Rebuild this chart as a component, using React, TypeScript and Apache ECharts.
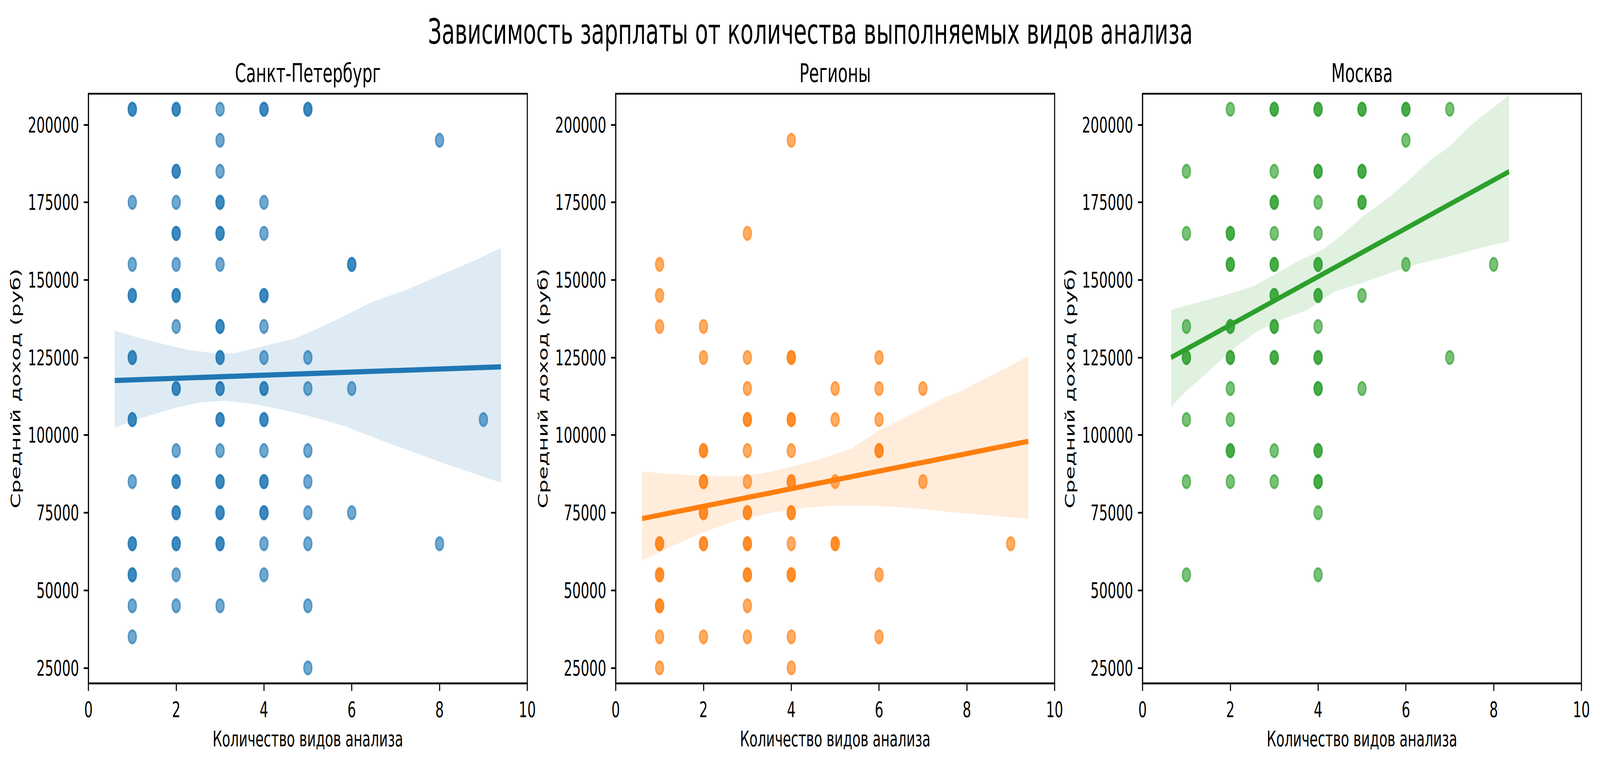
import React, { useEffect, useRef } from 'react';
import * as echarts from 'echarts';

// ---------- texts ----------
const chartTitle = 'Зависимость зарплаты от количества выполняемых видов анализа';
const panelTitles = ['Санкт-Петербург', 'Регионы', 'Москва'];
const xAxisLabel = 'Количество видов анализа';
const yAxisLabel = 'Средний доход (руб)';

// ---------- ticks ----------
const xTicks = [0, 2, 4, 6, 8, 10];
const yTicks = [25000, 50000, 75000, 100000, 125000, 150000, 175000, 200000];

// ---------- colours ----------
const panelColors = ['#1f77b4', '#ff7f0e', '#2ca02c'];
const panelColorsRgb = ['31,119,180', '255,127,14', '44,160,44'];

// ---------- scatter data: [analysis count, salary, overlapping observations] ----------
const spbPoints = [
  [1, 205000, 2], [1, 175000, 1], [1, 155000, 1], [1, 145000, 2], [1, 125000, 2], [1, 105000, 2],
  [1, 85000, 1], [1, 65000, 2], [1, 55000, 2], [1, 45000, 1], [1, 35000, 1],
  [2, 205000, 2], [2, 185000, 2], [2, 175000, 1], [2, 165000, 2], [2, 155000, 1], [2, 145000, 2],
  [2, 135000, 1], [2, 115000, 2], [2, 95000, 1], [2, 85000, 2], [2, 75000, 2], [2, 65000, 2],
  [2, 55000, 1], [2, 45000, 1],
  [3, 205000, 1], [3, 195000, 1], [3, 185000, 1], [3, 175000, 2], [3, 165000, 2], [3, 155000, 1],
  [3, 135000, 2], [3, 125000, 2], [3, 115000, 2], [3, 105000, 2], [3, 95000, 1], [3, 85000, 2],
  [3, 75000, 2], [3, 65000, 2], [3, 45000, 1],
  [4, 205000, 2], [4, 175000, 1], [4, 165000, 1], [4, 145000, 2], [4, 135000, 1], [4, 125000, 1],
  [4, 115000, 2], [4, 105000, 2], [4, 95000, 1], [4, 85000, 2], [4, 75000, 2], [4, 65000, 1],
  [4, 55000, 1],
  [5, 205000, 2], [5, 125000, 1], [5, 115000, 1], [5, 95000, 1], [5, 85000, 1], [5, 75000, 1],
  [5, 65000, 1], [5, 45000, 1], [5, 25000, 1],
  [6, 155000, 2], [6, 115000, 1], [6, 75000, 1],
  [8, 195000, 1], [8, 65000, 1],
  [9, 105000, 1],
];

const regionPoints = [
  [1, 155000, 1], [1, 145000, 1], [1, 135000, 1], [1, 65000, 2], [1, 55000, 2], [1, 45000, 2],
  [1, 35000, 1], [1, 25000, 1],
  [2, 135000, 1], [2, 125000, 1], [2, 95000, 2], [2, 85000, 2], [2, 75000, 2], [2, 65000, 2],
  [2, 35000, 1],
  [3, 165000, 1], [3, 125000, 1], [3, 115000, 1], [3, 105000, 2], [3, 95000, 1], [3, 85000, 1],
  [3, 75000, 2], [3, 65000, 2], [3, 55000, 2], [3, 45000, 1], [3, 35000, 1],
  [4, 195000, 1], [4, 125000, 2], [4, 105000, 2], [4, 95000, 1], [4, 85000, 2], [4, 75000, 2],
  [4, 65000, 1], [4, 55000, 2], [4, 35000, 1], [4, 25000, 1],
  [5, 115000, 1], [5, 105000, 1], [5, 85000, 1], [5, 65000, 2],
  [6, 125000, 1], [6, 115000, 1], [6, 105000, 1], [6, 95000, 2], [6, 55000, 1], [6, 35000, 1],
  [7, 115000, 1], [7, 85000, 1],
  [9, 65000, 1],
];

const moscowPoints = [
  [1, 185000, 1], [1, 165000, 1], [1, 135000, 1], [1, 125000, 2], [1, 105000, 1], [1, 85000, 1],
  [1, 55000, 1],
  [2, 205000, 1], [2, 165000, 2], [2, 155000, 2], [2, 135000, 2], [2, 125000, 2], [2, 115000, 1],
  [2, 105000, 1], [2, 95000, 2], [2, 85000, 1],
  [3, 205000, 2], [3, 185000, 1], [3, 175000, 2], [3, 165000, 1], [3, 155000, 2], [3, 145000, 2],
  [3, 135000, 2], [3, 125000, 2], [3, 95000, 1], [3, 85000, 1],
  [4, 205000, 2], [4, 185000, 2], [4, 175000, 1], [4, 165000, 1], [4, 155000, 2], [4, 145000, 2],
  [4, 135000, 1], [4, 125000, 2], [4, 115000, 2], [4, 95000, 2], [4, 85000, 2], [4, 75000, 1],
  [4, 55000, 1],
  [5, 205000, 2], [5, 185000, 2], [5, 175000, 2], [5, 145000, 1], [5, 115000, 1],
  [6, 205000, 2], [6, 195000, 1], [6, 155000, 1],
  [7, 205000, 1], [7, 125000, 1],
  [8, 155000, 1],
];

// ---------- regression lines (end points) ----------
const spbLine = [[0.6, 117600], [9.4, 122000]];
const regionLine = [[0.6, 73100], [9.4, 98000]];
const moscowLine = [[0.65, 125000], [8.35, 184900]];

// ---------- confidence bands ----------
const spbUpper = [
  [0.6, 133700], [1.13, 131400], [1.69, 129400], [2.31, 127400], [2.87, 126400], [3.34, 126400],
  [3.97, 128600], [4.68, 131000], [5.15, 133800], [5.86, 138600], [6.41, 142600], [7.28, 147000],
  [8.06, 151800], [8.85, 156600], [9.4, 160300],
];
const spbLower = [
  [0.6, 102400], [1.13, 105200], [2.0, 108900], [2.55, 110500], [3.1, 111100], [3.73, 110100],
  [4.44, 108100], [5.15, 105700], [5.86, 102800], [6.65, 98400], [7.43, 94400], [8.22, 90300],
  [9.4, 84700],
];
const regionUpper = [
  [0.6, 88300], [1.2, 87500], [1.98, 86900], [2.6, 86700], [3.09, 87100], [3.56, 88300],
  [4.03, 89900], [4.58, 91900], [5.37, 95600], [6.0, 101500], [6.71, 106500], [7.5, 112100],
  [7.89, 114300], [9.4, 125400],
];
const regionLower = [
  [0.6, 59700], [1.2, 63700], [1.98, 68600], [2.77, 72600], [3.56, 75000], [4.35, 76600],
  [4.98, 77300], [5.92, 77200], [6.71, 76600], [7.5, 75400], [8.28, 74400], [9.4, 73000],
];
const moscowUpper = [
  [0.65, 140400], [1.22, 142600], [2.0, 145600], [2.56, 148200], [3.11, 152600], [3.58, 156300],
  [4.13, 159900], [4.6, 165100], [5.0, 170300], [5.55, 175900], [6.02, 181500], [6.57, 188700],
  [6.97, 192700], [7.52, 200300], [7.99, 205500], [8.35, 209500],
];
const moscowLower = [
  [0.65, 109100], [0.98, 114000], [1.54, 121000], [2.0, 127000], [2.56, 133000], [3.19, 137400],
  [3.74, 140200], [4.37, 146200], [5.0, 149000], [5.63, 152200], [6.34, 155400], [6.97, 157500],
  [7.91, 161100], [8.35, 162300],
];

const panels = [
  { points: spbPoints, line: spbLine, upper: spbUpper, lower: spbLower },
  { points: regionPoints, line: regionLine, upper: regionUpper, lower: regionLower },
  { points: moscowPoints, line: moscowLine, upper: moscowUpper, lower: moscowLower },
];

// ---------- layout (in reference pixels) ----------
const W = 6642;
const H = 1959;
const FONT = 'DejaVu Sans';
const gridLefts = [367, 2556, 4743];
const gridTop = 240;
const gridW = 1822;
const gridH = 1510;
const tickFont = 55.6;
const spine = 4.4;

function buildOption() {
  const grid: any[] = [];
  const xAxis: any[] = [];
  const yAxis: any[] = [];
  const series: any[] = [];
  const graphic: any[] = [];

  graphic.push({
    type: 'text',
    x: 3364,
    y: 81,
    style: {
      text: chartTitle,
      font: `88.9px "${FONT}"`,
      fill: '#000',
      align: 'center',
      verticalAlign: 'middle',
    },
  });

  panels.forEach((p, i) => {
    const left = gridLefts[i];
    const rgb = panelColorsRgb[i];
    grid.push({
      left,
      top: gridTop,
      width: gridW,
      height: gridH,
      show: true,
      borderColor: '#000',
      borderWidth: spine,
      backgroundColor: 'transparent',
      containLabel: false,
    });
    xAxis.push({
      type: 'value',
      gridIndex: i,
      min: 0,
      max: 10,
      interval: 2,
      axisLine: { show: true, lineStyle: { color: '#000', width: spine } },
      axisTick: { show: true, inside: false, length: 19.4, lineStyle: { color: '#000', width: spine } },
      axisLabel: {
        show: true,
        margin: 39,
        fontSize: tickFont,
        fontFamily: FONT,
        color: '#000',
        formatter: (v: number) => String(v),
        customValues: xTicks,
      },
      splitLine: { show: false },
    });
    yAxis.push({
      type: 'value',
      gridIndex: i,
      min: 20000,
      max: 210000,
      axisLine: { show: true, lineStyle: { color: '#000', width: spine } },
      axisTick: {
        show: true,
        inside: false,
        length: 19.4,
        lineStyle: { color: '#000', width: spine },
        customValues: yTicks,
      },
      axisLabel: {
        show: true,
        margin: 39,
        fontSize: tickFont,
        fontFamily: FONT,
        color: '#000',
        formatter: (v: number) => String(v),
        customValues: yTicks,
      },
      splitLine: { show: false },
    });

    const scatterData: number[][] = [];
    p.points.forEach(([x, y, n]) => {
      for (let k = 0; k < n; k++) scatterData.push([x, y]);
    });

    series.push({
      type: 'scatter',
      xAxisIndex: i,
      yAxisIndex: i,
      data: scatterData,
      symbol: 'circle',
      symbolSize: 33.3,
      itemStyle: {
        color: `rgba(${rgb},0.8)`,
        borderColor: `rgba(${rgb},0.8)`,
        borderWidth: 5.5,
      },
      emphasis: { disabled: true },
      silent: true,
      z: 2,
    });

    const upper = p.upper;
    const lower = p.lower;
    series.push({
      type: 'custom',
      xAxisIndex: i,
      yAxisIndex: i,
      data: [upper[0]],
      silent: true,
      z: 3,
      renderItem: (_params: any, api: any) => {
        const pts = upper
          .map((q) => api.coord(q))
          .concat(lower.slice().reverse().map((q) => api.coord(q)));
        return {
          type: 'polygon',
          shape: { points: pts },
          style: { fill: `rgba(${rgb},0.15)`, stroke: 'none' },
        };
      },
    });

    series.push({
      type: 'line',
      xAxisIndex: i,
      yAxisIndex: i,
      data: p.line,
      showSymbol: false,
      symbol: 'none',
      lineStyle: { color: panelColors[i], width: 13.3, cap: 'butt' },
      emphasis: { disabled: true },
      silent: true,
      z: 4,
    });

    const cx = left + gridW / 2;
    graphic.push({
      type: 'text',
      x: cx,
      y: 187,
      style: {
        text: panelTitles[i],
        font: `66.7px "${FONT}"`,
        fill: '#000',
        align: 'center',
        verticalAlign: 'middle',
      },
    });
    graphic.push({
      type: 'text',
      x: cx,
      y: 1892,
      style: {
        text: xAxisLabel,
        font: `${tickFont}px "${FONT}"`,
        fill: '#000',
        align: 'center',
        verticalAlign: 'middle',
      },
    });
    graphic.push({
      type: 'text',
      x: left - 301.5,
      y: gridTop + gridH / 2,
      rotation: Math.PI / 2,
      style: {
        text: yAxisLabel,
        font: `${tickFont}px "${FONT}"`,
        fill: '#000',
        align: 'center',
        verticalAlign: 'middle',
      },
    });
  });

  return {
    animation: false,
    backgroundColor: '#fff',
    grid,
    xAxis,
    yAxis,
    series,
    graphic,
  };
}

export default function App() {
  const ref = useRef<HTMLDivElement | null>(null);
  // The browser window may be narrower than the reference; fit the whole
  // reference-sized drawing into the actual window.
  const vw = typeof window !== 'undefined' && window.innerWidth > 0 ? window.innerWidth : W;
  const vh = typeof window !== 'undefined' && window.innerHeight > 0 ? window.innerHeight : H;
  const sx = Math.min(1, vw / W);
  const sy = Math.min(1, vh / H);

  useEffect(() => {
    document.body.style.margin = '0';
    document.body.style.overflow = 'hidden';
    if (!ref.current) return;
    const chart = echarts.init(ref.current, undefined, { renderer: 'svg', width: W, height: H });
    chart.setOption(buildOption() as any);
    return () => {
      chart.dispose();
    };
  }, []);

  return (
    <div style={{ width: W * sx, height: H * sy, overflow: 'hidden', position: 'relative' }}>
      <div
        ref={ref}
        style={{
          width: W,
          height: H,
          transform: `scale(${sx}, ${sy})`,
          transformOrigin: '0 0',
          position: 'absolute',
          left: 0,
          top: 0,
        }}
      />
    </div>
  );
}
